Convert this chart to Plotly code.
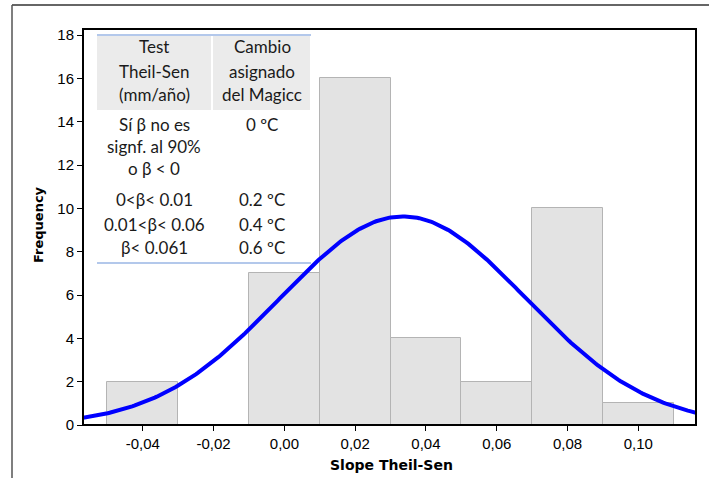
import numpy as np
import plotly.graph_objects as go

# ---- data ----
bin_centers = [-0.04, -0.02, 0.00, 0.02, 0.04, 0.06, 0.08, 0.10]
counts = [2, 0, 7, 16, 4, 2, 10, 1]
bin_width = 0.02
fit_mean = 0.0335
fit_sd = 0.0348
n_obs = sum(counts)

x_tickvals = [-0.04, -0.02, 0.00, 0.02, 0.04, 0.06, 0.08, 0.10]
x_ticktext = ["-0,04", "-0,02", "0,00", "0,02", "0,04", "0,06", "0,08", "0,10"]
y_tickvals = [0, 2, 4, 6, 8, 10, 12, 14, 16, 18]

table_header = [["Test", "Theil-Sen", "(mm/año)"], ["Cambio", "asignado", "del Magicc"]]
table_col1 = ["Sí β no es", "signf. al 90%", "o β < 0", "0<β< 0.01", "0.01<β< 0.06", "β< 0.061"]
table_col2 = ["0 ºC", "", "", "0.2 ºC", "0.4 ºC", "0.6 ºC"]

x_range = [-0.0569, 0.1163]
y_range = [0, 18.28]

# ---- layout geometry (pixels) ----
W, H = 709, 478
ML, MR, MT, MB = 83, 13, 29, 53
PW, PH = W - ML - MR, H - MT - MB


def px(x):
    return (x - ML) / PW


def py(y):
    return (H - MB - y) / PH


fig = go.Figure()
fig.add_trace(go.Bar(
    x=bin_centers, y=counts, width=bin_width,
    marker=dict(color="#e3e3e3", line=dict(color="#b4b4b4", width=1)),
    hoverinfo="skip", showlegend=False,
))

xs = np.linspace(x_range[0], x_range[1], 300)
ys = n_obs * bin_width / (fit_sd * np.sqrt(2 * np.pi)) * np.exp(-0.5 * ((xs - fit_mean) / fit_sd) ** 2)
fig.add_trace(go.Scatter(x=xs, y=ys, mode="lines",
                         line=dict(color="#0000ff", width=4), showlegend=False))

shapes = []
# outer frame lines (top and left)
shapes.append(dict(type="line", xref="paper", yref="paper", x0=px(12), x1=px(W), y0=py(5), y1=py(5),
                   line=dict(color="#333333", width=1.5)))
shapes.append(dict(type="line", xref="paper", yref="paper", x0=px(12), x1=px(12), y0=py(5), y1=py(H),
                   line=dict(color="#555555", width=1.5)))
# plot frame
shapes.append(dict(type="rect", xref="paper", yref="paper", x0=0, x1=1, y0=0, y1=1,
                   line=dict(color="black", width=2), layer="above"))
# table header backgrounds
shapes.append(dict(type="rect", xref="paper", yref="paper", x0=px(97), x1=px(211), y0=py(110), y1=py(36),
                   fillcolor="#ebebeb", line=dict(width=0), layer="above"))
shapes.append(dict(type="rect", xref="paper", yref="paper", x0=px(213), x1=px(310), y0=py(110), y1=py(36),
                   fillcolor="#ebebeb", line=dict(width=0), layer="above"))
# table body background (white)
shapes.append(dict(type="rect", xref="paper", yref="paper", x0=px(97), x1=px(311), y0=py(262), y1=py(110),
                   fillcolor="white", line=dict(width=0), layer="below"))
# blue lines
shapes.append(dict(type="line", xref="paper", yref="paper", x0=px(97), x1=px(311), y0=py(35), y1=py(35),
                   line=dict(color="#9ab6e4", width=1.5), layer="above"))
shapes.append(dict(type="line", xref="paper", yref="paper", x0=px(97), x1=px(311), y0=py(263), y1=py(263),
                   line=dict(color="#9ab6e4", width=1.5), layer="above"))

annotations = []
tfont = dict(family="Lato, Open Sans, sans-serif", size=17, color="#1a1a1a")
c1, c2 = 154, 262
head_y = [47, 71, 94]
for i, t in enumerate(table_header[0]):
    annotations.append(dict(x=px(c1), y=py(head_y[i]), xref="paper", yref="paper", text=t,
                            showarrow=False, font=tfont, xanchor="center", yanchor="middle"))
for i, t in enumerate(table_header[1]):
    annotations.append(dict(x=px(c2), y=py(head_y[i]), xref="paper", yref="paper", text=t,
                            showarrow=False, font=tfont, xanchor="center", yanchor="middle"))
body_y = [124, 146, 169, 200, 224, 248]
for i, t in enumerate(table_col1):
    annotations.append(dict(x=px(c1), y=py(body_y[i]), xref="paper", yref="paper", text=t,
                            showarrow=False, font=tfont, xanchor="center", yanchor="middle"))
for i, t in enumerate(table_col2):
    if t:
        annotations.append(dict(x=px(c2), y=py(body_y[i]), xref="paper", yref="paper", text=t,
                                showarrow=False, font=tfont, xanchor="center", yanchor="middle"))

# axis titles
annotations.append(dict(x=px(38), y=py(225), xref="paper", yref="paper", text="<b>Frequency</b>",
                        textangle=-90, showarrow=False,
                        font=dict(family="DejaVu Sans", size=13, color="black"),
                        xanchor="center", yanchor="middle"))
annotations.append(dict(x=px(391), y=py(465), xref="paper", yref="paper", text="<b>Slope Theil-Sen</b>",
                        showarrow=False,
                        font=dict(family="DejaVu Sans", size=14, color="black"),
                        xanchor="center", yanchor="middle"))

fig.update_layout(
    width=W, height=H,
    margin=dict(l=ML, r=MR, t=MT, b=MB),
    paper_bgcolor="white", plot_bgcolor="white",
    bargap=0,
    shapes=shapes, annotations=annotations,
    xaxis=dict(range=x_range, tickvals=x_tickvals, ticktext=x_ticktext,
               ticks="outside", ticklen=5, tickcolor="black", showgrid=False, zeroline=False,
               showline=False, tickfont=dict(family="Liberation Sans", size=15, color="black")),
    yaxis=dict(range=y_range, tickvals=y_tickvals, ticks="outside", ticklen=5, tickcolor="black",
               showgrid=False, zeroline=False, showline=False,
               tickfont=dict(family="Liberation Sans", size=15, color="black")),
)

fig.write_html("out.html")
